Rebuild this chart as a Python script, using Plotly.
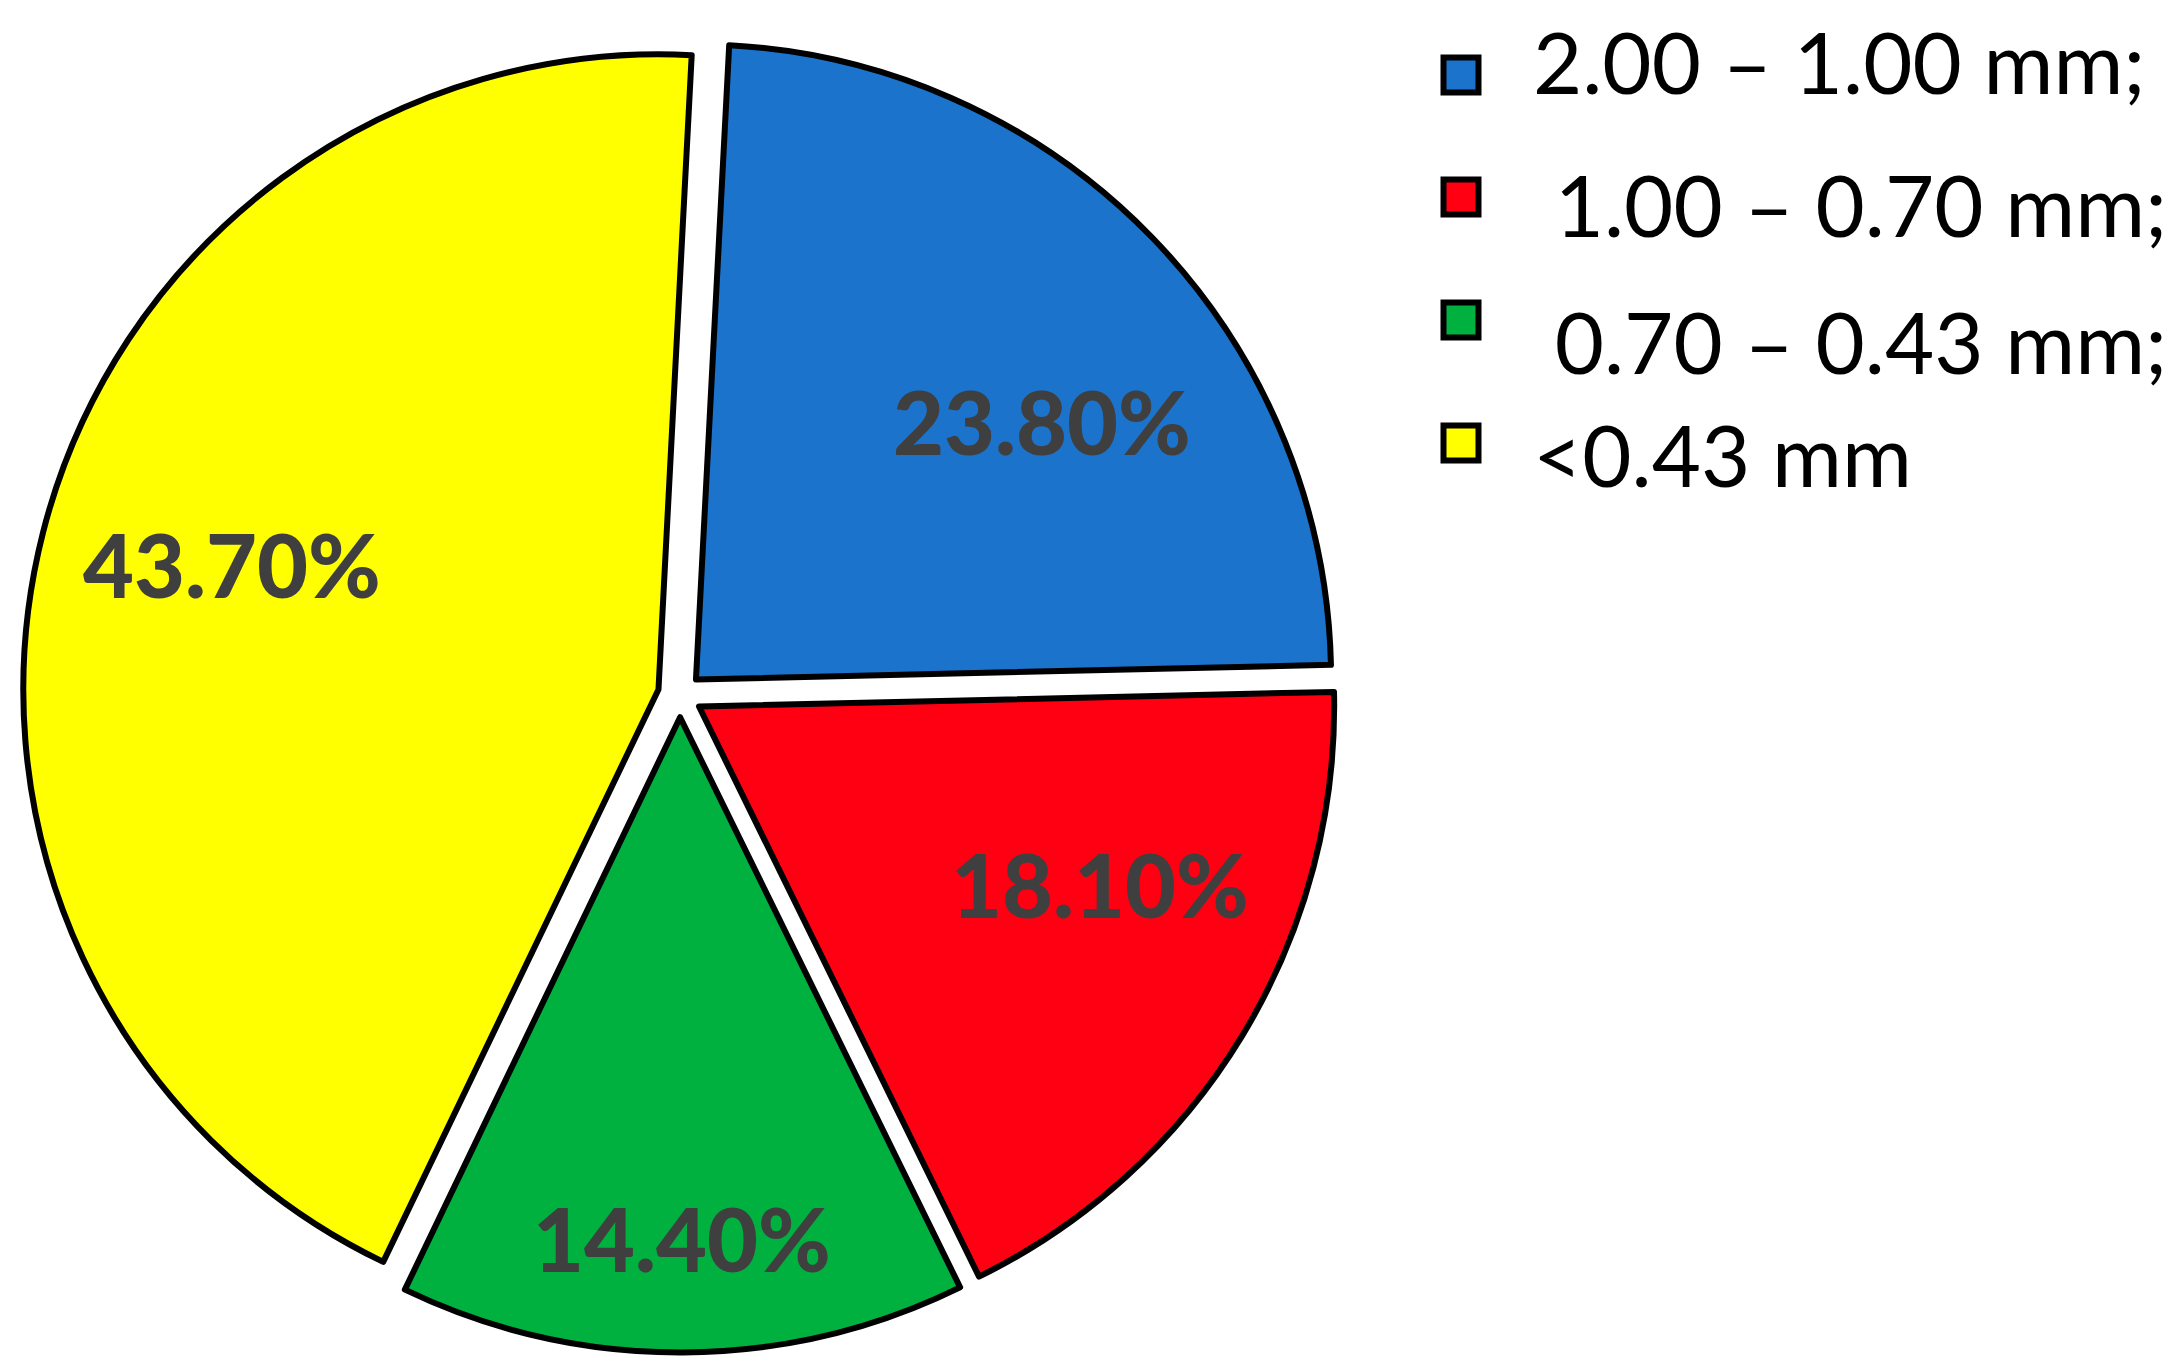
import math
import plotly.graph_objects as go

# ---- data ----
labels = ["2.00 – 1.00 mm;", " 1.00 – 0.70 mm;", " 0.70 – 0.43 mm;", "<0.43 mm"]
values = [23.80, 18.10, 14.40, 43.70]
colors = ["#1B73CC", "#FF0013", "#00B140", "#FFFF00"]

# ---- layout constants ----
W, H = 2179, 1364
ROTATION = 3            # degrees clockwise from 12 o'clock
PULL = 0.035
DOM_X = [0.0067, 0.6101]
DOM_Y = [0.0143, 0.9784]
LABEL_R = [0.68, 0.69, 0.82, 0.70]        # radial position of the % labels (fraction of radius)
LABEL_NUDGE = [7, -7, 0, 2]               # angular nudge of the % labels (deg)
LEG_MARK_Y = [67, 189, 312, 435]          # legend swatch centres (px from top)
LEG_TEXT_Y = [57, 200, 337, 450]          # legend text centres (px from top)
LEG_MARK_X = 1453
LEG_TEXT_X = 1523

fig = go.Figure(go.Pie(
    labels=labels,
    values=values,
    sort=False,
    direction="clockwise",
    rotation=ROTATION,
    pull=[PULL] * len(values),
    marker=dict(colors=colors, line=dict(color="black", width=6)),
    textinfo="none",
    domain=dict(x=DOM_X, y=DOM_Y),
    hoverinfo="label+value",
    showlegend=False,
))

# pie geometry (paper px) derived from the domain, as plotly does
dw = (DOM_X[1] - DOM_X[0]) * W
dh = (DOM_Y[1] - DOM_Y[0]) * H
R = min(dw, dh) / 2 / (1 + PULL)
cx = (DOM_X[0] + DOM_X[1]) / 2 * W
cy = (1 - (DOM_Y[0] + DOM_Y[1]) / 2) * H  # from top

total = sum(values)
cum = 0.0
for i, v in enumerate(values):
    mid = ROTATION + (cum + v / 2) / total * 360
    cum += v
    ang = math.radians(mid + LABEL_NUDGE[i])
    dist = (PULL + LABEL_R[i]) * R
    x = cx + dist * math.sin(ang)
    y = cy - dist * math.cos(ang)
    fig.add_annotation(
        x=x / W, y=1 - y / H, xref="paper", yref="paper",
        text=f"{v:.2f}%", showarrow=False,
        xanchor="center", yanchor="middle",
        font=dict(family="Lato", size=88, color="#3F3F3F", weight=900),
    )

# legend
half = 17.5
for i, (lab, col) in enumerate(zip(labels, colors)):
    yc = LEG_MARK_Y[i]
    fig.add_shape(
        type="rect", xref="paper", yref="paper",
        x0=(LEG_MARK_X - half) / W, x1=(LEG_MARK_X + half) / W,
        y0=1 - (yc + half) / H, y1=1 - (yc - half) / H,
        fillcolor=col, line=dict(color="black", width=6),
    )
    fig.add_annotation(
        x=LEG_TEXT_X / W, y=1 - (LEG_TEXT_Y[i] - 4) / H, xref="paper", yref="paper",
        text=lab.replace(" ", "\u00a0") if lab.startswith(" ") else lab,
        showarrow=False, xanchor="left", yanchor="middle",
        font=dict(family="Lato", size=85, color="black"),
    )

fig.update_layout(
    width=W,
    height=H,
    margin=dict(l=0, r=0, t=0, b=0),
    paper_bgcolor="white",
    plot_bgcolor="white",
)

fig.write_html("out.html")
